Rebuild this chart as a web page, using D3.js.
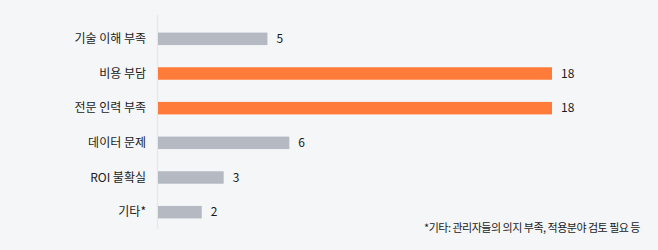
<!DOCTYPE html>
<html>
<head>
<meta charset="utf-8">
<script src="https://cdn.jsdelivr.net/npm/d3@7"></script>
<style>
  html, body { margin: 0; padding: 0; background: #f5f6f8; }
  svg { display: block; }
  text { font-family: "Noto Sans CJK KR", "Noto Sans", sans-serif; fill: #1a1a1a; }
</style>
</head>
<body>
<div id="chart"></div>
<script>
var categories = ['기술 이해 부족', '비용 부담', '전문 인력 부족', '데이터 문제', 'ROI 불확실', '기타*']
var values = [5, 18, 18, 6, 3, 2]
var highlighted = ['비용 부담', '전문 인력 부족']
var footnote = '*기타: 관리자들의 의지 부족, 적용분야 검토 필요 등'

var width = 658
var height = 250

var svg = d3
  .select('#chart')
  .append('svg')
  .attr('width', width)
  .attr('height', height)

svg.append('rect')
  .attr('width', width)
  .attr('height', height)
  .attr('fill', '#f5f6f8')

var xScale = d3.scaleLinear().domain([0, 18]).range([158, 552])

var yScale = d3
  .scaleBand()
  .domain(categories)
  .range([21.5, 229.5])
  .paddingInner(0.64)
  .paddingOuter(0.32)

// faint axis line
svg.append('line')
  .attr('x1', 157.5)
  .attr('x2', 157.5)
  .attr('y1', 15)
  .attr('y2', 229)
  .attr('stroke', '#e6e8ec')
  .attr('stroke-width', 1.5)

svg.selectAll('.bar')
  .data(categories)
  .enter()
  .append('rect')
  .attr('class', 'bar')
  .attr('x', xScale(0))
  .attr('y', d => yScale(d))
  .attr('height', yScale.bandwidth())
  .attr('width', (d, i) => xScale(values[i]) - xScale(0))
  .attr('fill', d => highlighted.includes(d) ? '#fe7b3a' : '#b5b9c1')

svg.selectAll('.cat-label')
  .data(categories)
  .enter()
  .append('text')
  .attr('class', 'cat-label')
  .attr('x', 146)
  .attr('y', d => yScale(d) + yScale.bandwidth() / 2)
  .attr('dy', '0.35em')
  .attr('text-anchor', 'end')
  .attr('font-size', 12)
  .text(d => d)

svg.selectAll('.value-label')
  .data(categories)
  .enter()
  .append('text')
  .attr('class', 'value-label')
  .attr('x', (d, i) => xScale(values[i]) + 9)
  .attr('y', d => yScale(d) + yScale.bandwidth() / 2)
  .attr('dy', '0.35em')
  .attr('font-size', 12)
  .text((d, i) => values[i])

svg.append('text')
  .attr('x', 640)
  .attr('y', 232)
  .attr('text-anchor', 'end')
  .attr('font-size', 11)
  .attr('letter-spacing', -0.5)
  .text(footnote)
</script>
</body>
</html>
